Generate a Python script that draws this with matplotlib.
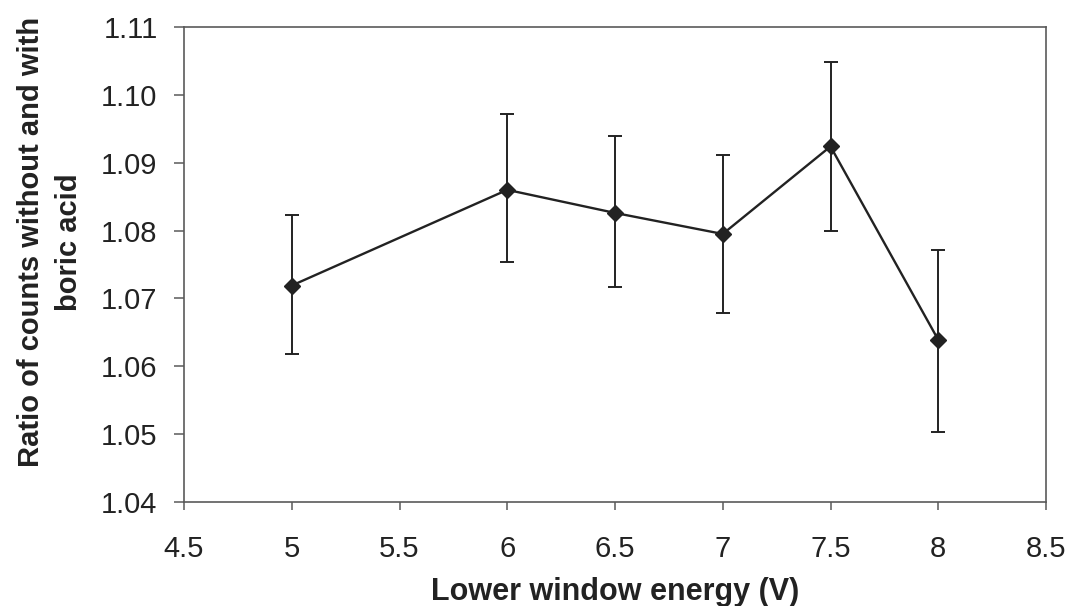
import matplotlib
matplotlib.use("Agg")
import matplotlib.pyplot as plt
from matplotlib.ticker import FormatStrFormatter

# Lower window energy settings (V)
energy = [5, 6, 6.5, 7, 7.5, 8]
# Count ratio without / with boric acid
ratio = [1.0719, 1.0860, 1.0826, 1.0795, 1.0924, 1.0639]
# Upper and lower ends of the error bars
err_high = [1.0823, 1.0972, 1.0940, 1.0912, 1.1048, 1.0772]
err_low = [1.0618, 1.0754, 1.0717, 1.0679, 1.0799, 1.0503]

x_ticks = [4.5, 5, 5.5, 6, 6.5, 7, 7.5, 8, 8.5]
y_ticks = [1.04, 1.05, 1.06, 1.07, 1.08, 1.09, 1.10, 1.11]

plt.rcParams['font.family'] = ['Liberation Sans', 'DejaVu Sans']
ink = '#222222'
frame = '#5a5a5a'

W, H = 1071, 606
fig = plt.figure(figsize=(W / 100, H / 100), dpi=100)
ax = fig.add_axes([184 / W, 1 - 502 / H, (1046 - 184) / W, (502 - 27) / H])

yerr = [[r - lo for r, lo in zip(ratio, err_low)],
        [hi - r for r, hi in zip(ratio, err_high)]]

ax.errorbar(energy, ratio, yerr=yerr, color=ink, linewidth=1.7,
            elinewidth=1.4, capsize=4.7, capthick=1.4,
            marker='D', markersize=8.5, markerfacecolor=ink,
            markeredgecolor=ink, zorder=3)

ax.set_xlim(4.5, 8.5)
ax.set_ylim(1.04, 1.11)
ax.set_xticks(x_ticks)
ax.set_xticklabels([f'{v:g}' for v in x_ticks])
ax.set_yticks(y_ticks)
ax.yaxis.set_major_formatter(FormatStrFormatter('%.2f'))

for s in ax.spines.values():
    s.set_color(frame)
    s.set_linewidth(1.2)

ax.tick_params(axis='both', direction='out', width=1.1, color=frame,
               labelsize=21, labelcolor=ink)
ax.tick_params(axis='y', length=7, pad=12)
ax.tick_params(axis='x', length=6, pad=17.5)

fig.text(615 / W, 1 - 600 / H, 'Lower window energy (V)', fontsize=22,
         fontweight='bold', color=ink, ha='center', va='baseline')
fig.text(50 / W, 1 - 242 / H, 'Ratio of counts without and with\nboric acid',
         fontsize=21, fontweight='bold', color=ink, rotation=90,
         ha='center', va='center', multialignment='center', linespacing=1.45)

fig.savefig('out.png', dpi=100, facecolor='white')
